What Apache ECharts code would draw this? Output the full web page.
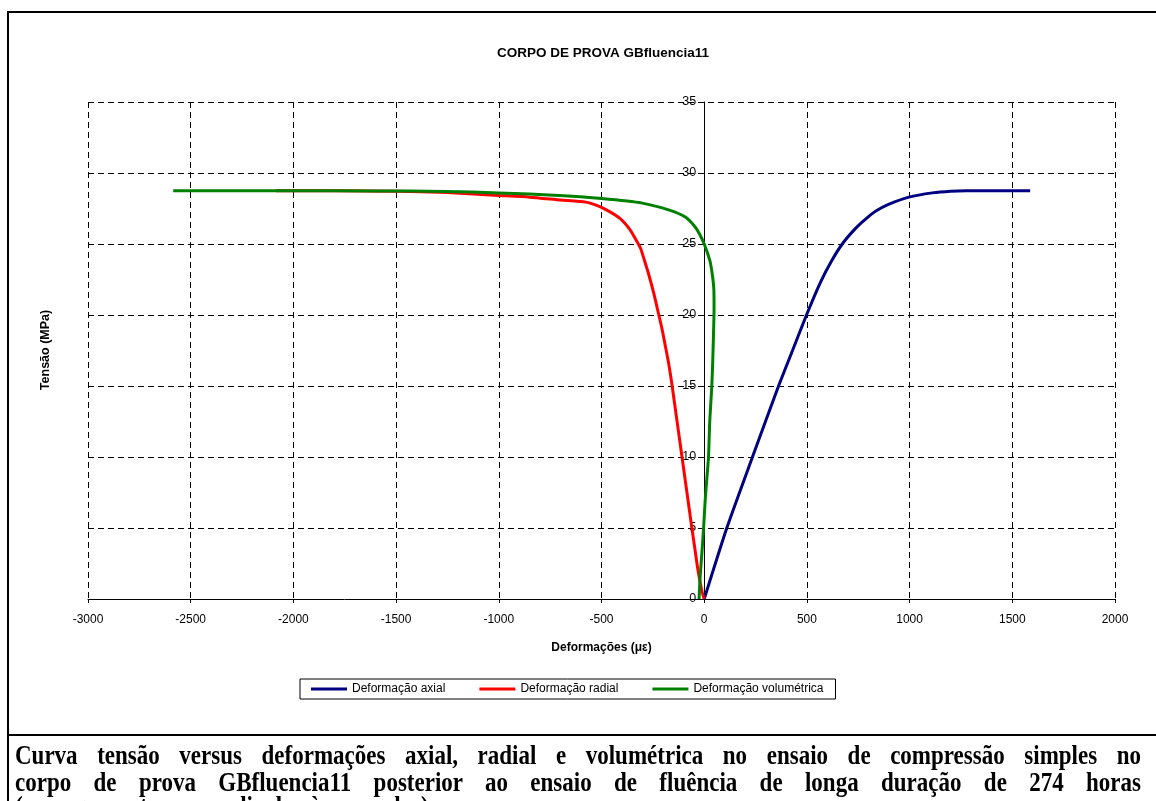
<!DOCTYPE html>
<html>
<head>
<meta charset="utf-8">
<script src="https://cdn.jsdelivr.net/npm/echarts@6/dist/echarts.min.js"></script>
<style>
  html, body { margin: 0; padding: 0; background: #fff; }
  #page { position: relative; width: 1156px; height: 801px; overflow: hidden; background: #fff; }
  #chart { position: absolute; left: 0; top: 0; width: 1156px; height: 801px; }
  .rule { position: absolute; background: #000; }
  .cap { position: absolute; left: 15px; width: 1126px; font-family: "Liberation Serif", "DejaVu Serif", serif;
         font-weight: bold; font-size: 23px; line-height: 26px; height: 26px; color: #000; white-space: nowrap;
         transform: scaleY(1.22); transform-origin: 50% 50%; }
  .just { text-align: justify; text-align-last: justify; white-space: normal; }
</style>
</head>
<body>
<div id="page">
  <div id="chart"></div>
  <div class="rule" style="left:7px; top:11px; width:1149px; height:2px;"></div>
  <div class="rule" style="left:7px; top:11px; width:2px; height:790px;"></div>
  <div class="rule" style="left:7px; top:734px; width:1149px; height:2px;"></div>
  <div class="cap just" style="top:742px;">Curva tensão versus deformações axial, radial e volumétrica no ensaio de compressão simples no</div>
  <div class="cap just" style="top:769px;">corpo de prova GBfluencia11 posterior ao ensaio de fluência de longa duração de 274 horas</div>
  <div class="cap" style="top:793px;">(carregamento perpendicular às camadas)</div>
</div>
<script>
// Stress (MPa) versus strain (microstrain) for each measured deformation
const titleText = 'CORPO DE PROVA GBfluencia11';
const seriesNames = ['Deformação axial', 'Deformação radial', 'Deformação volumétrica'];
const seriesColors = ['#000080', '#FF0000', '#008000'];

// [strain (με), stress (MPa)]
const axialData = [
  [0, 0], [110, 5], [235, 10], [362, 15], [430, 17.5], [498, 20], [566, 22.3], [620, 23.8],
  [672, 25], [737, 26.1], [790, 26.8], [834, 27.3], [900, 27.8], [997, 28.3], [1111, 28.6],
  [1200, 28.72], [1273, 28.75], [1436, 28.75], [1587, 28.75]
];
const radialData = [
  [0, 0], [-12, 0.6], [-30, 2], [-45, 3.5], [-60, 5], [-84, 7.5], [-108, 10], [-132, 12.5],
  [-156, 15], [-172, 16.5], [-189, 17.8], [-205, 19], [-221, 20], [-245, 21.5], [-269, 22.8],
  [-290, 23.8], [-310, 24.7], [-340, 25.5], [-366, 26.1], [-410, 26.8], [-463, 27.3],
  [-520, 27.7], [-576, 27.95], [-700, 28.1], [-850, 28.3], [-1000, 28.42], [-1250, 28.62],
  [-1500, 28.72], [-1800, 28.75], [-2085, 28.75]
];
const volumetricData = [
  [-25, 0], [-20, 1.5], [-10, 3.5], [-3, 5], [5, 7], [13, 8.5], [21, 10], [27, 12.5], [33, 14],
  [37, 15], [41, 16.5], [45, 18.5], [48, 20.4], [47, 21.8], [40, 22.8], [29, 23.75], [15, 24.4],
  [0, 25.0], [-19, 25.6], [-44, 26.2], [-92, 26.9], [-173, 27.4], [-302, 27.88], [-500, 28.2],
  [-705, 28.42], [-1000, 28.6], [-1260, 28.7], [-1600, 28.74], [-2000, 28.75], [-2585, 28.75]
];

const xRange = { min: -3000, max: 2000, interval: 500 };
const yRange = { min: 0, max: 35, interval: 5 };
const xAxisName = 'Deformações (με)';
const yAxisName = 'Tensão (MPa)';

const font = 'Arial, "Liberation Sans", sans-serif';
const dashed = { color: '#000', width: 1, type: [6, 4] };

const gridBox = { left: 88, right: 41, top: 102, bottom: 202 };
const plotWidth = 1156 - gridBox.left - gridBox.right;
// the stress axis is drawn through strain = 0
const yAxisShift = plotWidth * (0 - xRange.min) / (xRange.max - xRange.min);

const chart = echarts.init(document.getElementById('chart'), null, { renderer: 'canvas' });

const seriesData = [axialData, radialData, volumetricData];
const plain = v => String(v);

chart.setOption({
  backgroundColor: 'transparent',
  animation: false,
  title: {
    text: titleText,
    left: 598,
    top: 41,
    textAlign: 'center',
    textStyle: { fontFamily: font, fontSize: 13.5, fontWeight: 'bold', color: '#000' }
  },
  grid: gridBox,
  legend: {
    data: seriesNames,
    left: 300,
    top: 679,
    orient: 'horizontal',
    icon: 'rect',
    itemWidth: 36,
    itemHeight: 3,
    itemGap: 34,
    padding: [4, 12, 4, 11],
    borderColor: '#000',
    borderWidth: 1,
    backgroundColor: '#fff',
    textStyle: { fontFamily: font, fontSize: 12, color: '#000' }
  },
  xAxis: {
    type: 'value',
    min: xRange.min,
    max: xRange.max,
    interval: xRange.interval,
    name: xAxisName,
    nameLocation: 'middle',
    nameGap: 43,
    nameTextStyle: { fontFamily: font, fontSize: 12, fontWeight: 'bold', color: '#000' },
    axisLine: { onZero: false, lineStyle: { color: '#000', width: 1 } },
    axisTick: { show: true, length: 4, lineStyle: { color: '#000' } },
    axisLabel: { margin: 15, fontFamily: font, fontSize: 12, color: '#000', formatter: plain },
    splitLine: { show: true, lineStyle: dashed }
  },
  yAxis: {
    type: 'value',
    position: 'left',
    offset: -yAxisShift,
    min: yRange.min,
    max: yRange.max,
    interval: yRange.interval,
    axisLine: { show: true, onZero: false, lineStyle: { color: '#000', width: 1 } },
    axisTick: { show: true, length: 4, lineStyle: { color: '#000' } },
    axisLabel: { margin: 8, fontFamily: font, fontSize: 12.5, color: '#000', formatter: plain },
    splitLine: { show: true, lineStyle: dashed }
  },
  graphic: [{
    type: 'text',
    x: 46,
    y: 350,
    rotation: Math.PI / 2,
    style: {
      text: yAxisName,
      fill: '#000',
      font: 'bold 12.5px ' + font,
      textAlign: 'center',
      textVerticalAlign: 'middle'
    }
  }],
  series: seriesNames.map((name, i) => ({
    name: name,
    type: 'line',
    data: seriesData[i],
    showSymbol: false,
    smooth: 0.2,
    color: seriesColors[i],
    lineStyle: { color: seriesColors[i], width: 3 },
    z: 2 + i
  }))
});
</script>
</body>
</html>
